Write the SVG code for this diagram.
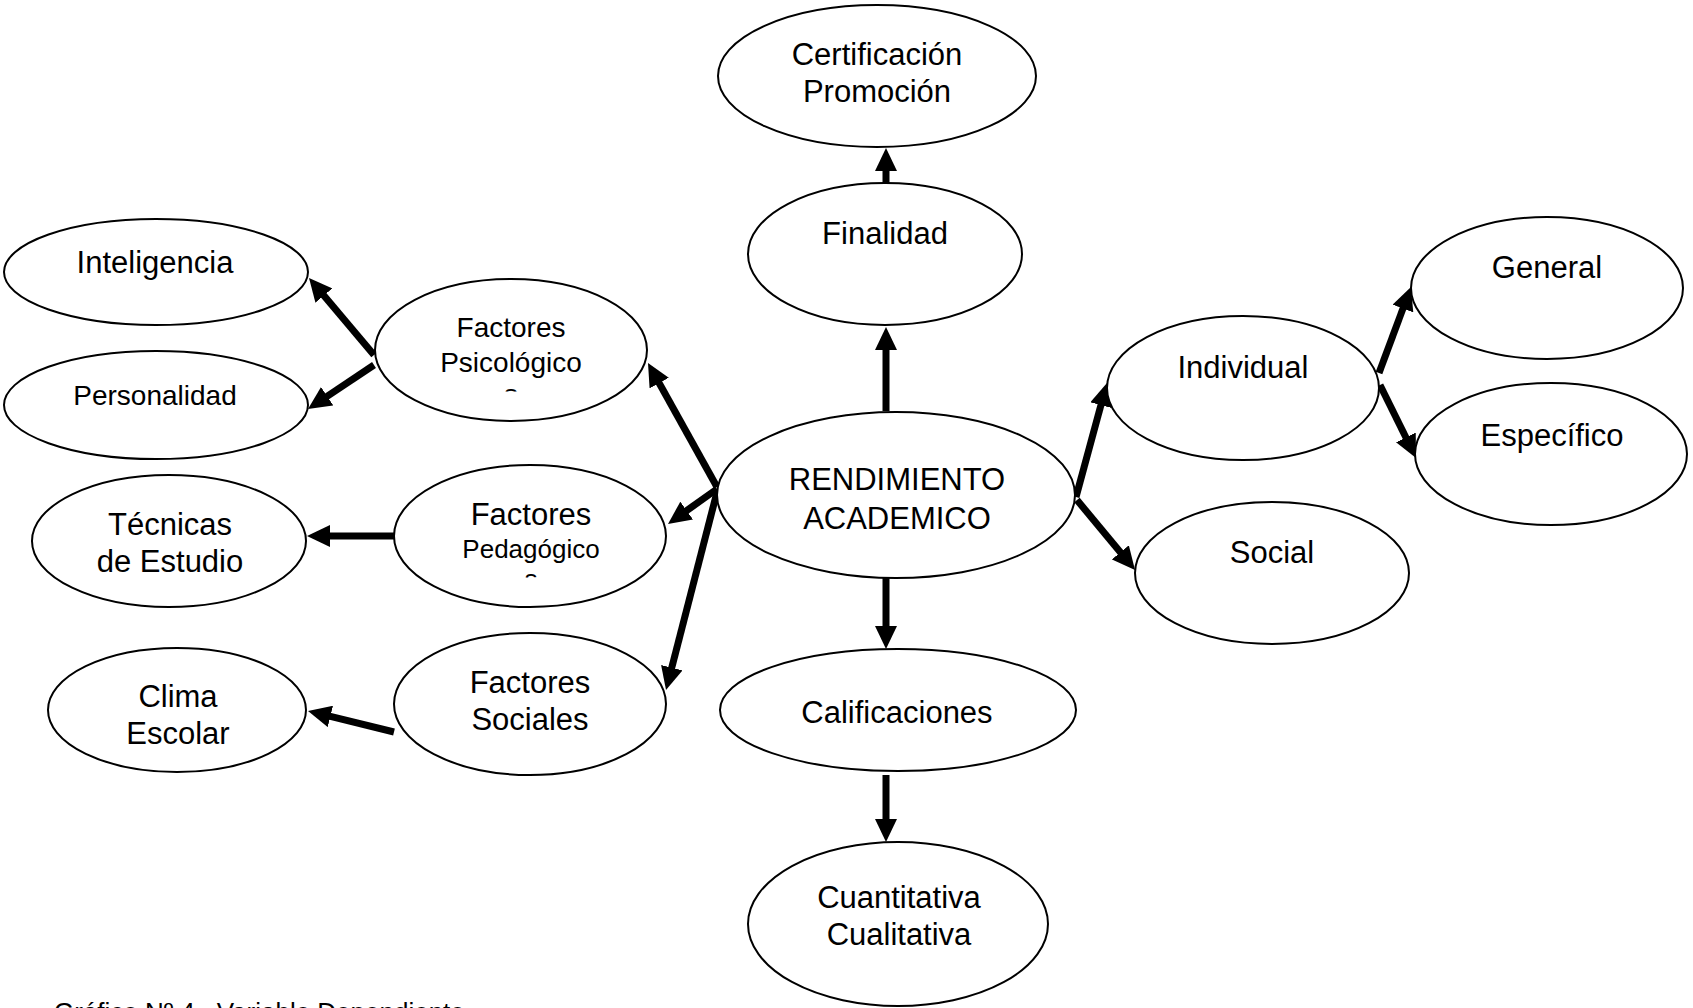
<svg xmlns="http://www.w3.org/2000/svg" width="1693" height="1008" viewBox="0 0 1693 1008">
<style>
.n ellipse{fill:#fff;stroke:#000;stroke-width:2}
text{font-family:"Liberation Sans",Arial,sans-serif;fill:#000;text-anchor:middle}
.t31{font-size:31px}
.t28{font-size:28px}
.t26{font-size:26px}
.c line{stroke:#000;stroke-width:7;marker-end:url(#ah)}
</style>
<defs>
<marker id="ah" markerUnits="userSpaceOnUse" markerWidth="23" markerHeight="22" viewBox="0 0 23 22" refX="1" refY="11" orient="auto">
<path d="M0,0 L23,11 L0,22 z" fill="#000"/>
</marker>
<clipPath id="cp1"><rect x="480" y="380" width="60" height="11.5"/></clipPath>
<clipPath id="cp2"><rect x="500" y="565" width="60" height="12.5"/></clipPath>
</defs>
<g class="c" id="connectors">
<line x1="886" y1="189" x2="886" y2="170"/>
<line x1="886" y1="411" x2="886" y2="349"/>
<line x1="886" y1="578" x2="886" y2="627"/>
<line x1="886" y1="775" x2="886" y2="820"/>
<line x1="717" y1="487" x2="658.7" y2="382.2"/>
<line x1="717" y1="489" x2="685.9" y2="511.2"/>
<line x1="717" y1="492" x2="671.5" y2="668.7"/>
<line x1="374" y1="355" x2="323.2" y2="294.8"/>
<line x1="374" y1="365" x2="326.3" y2="396.8"/>
<line x1="394" y1="536" x2="329" y2="536"/>
<line x1="394" y1="732" x2="329.4" y2="716.2"/>
<line x1="1076" y1="497" x2="1101.2" y2="404.2"/>
<line x1="1077" y1="500" x2="1121" y2="553.1"/>
<line x1="1379" y1="373" x2="1403.3" y2="307.6"/>
<line x1="1380" y1="385" x2="1406.3" y2="438.3"/>
</g>
<g class="n" id="certificacion">
<ellipse cx="877" cy="76" rx="159" ry="71"/>
<text class="t31" x="877" y="65">Certificación</text>
<text class="t31" x="877" y="102">Promoción</text>
</g>
<g class="n" id="finalidad">
<ellipse cx="885" cy="254" rx="137" ry="71"/>
<text class="t31" x="885" y="244">Finalidad</text>
</g>
<g class="n" id="rendimiento">
<ellipse cx="896" cy="495" rx="179" ry="83"/>
<text class="t31" x="897" y="490">RENDIMIENTO</text>
<text class="t31" x="897" y="529">ACADEMICO</text>
</g>
<g class="n" id="calificaciones">
<ellipse cx="898" cy="710" rx="178" ry="61"/>
<text class="t31" x="897" y="723">Calificaciones</text>
</g>
<g class="n" id="cuantitativa">
<ellipse cx="898" cy="924" rx="150" ry="82"/>
<text class="t31" x="899" y="908">Cuantitativa</text>
<text class="t31" x="899" y="945">Cualitativa</text>
</g>
<g class="n" id="inteligencia">
<ellipse cx="156" cy="272" rx="152" ry="53"/>
<text class="t31" x="155" y="273">Inteligencia</text>
</g>
<g class="n" id="personalidad">
<ellipse cx="156" cy="405" rx="152" ry="54"/>
<text class="t28" x="155" y="405">Personalidad</text>
</g>
<g class="n" id="factores-psicologicos">
<ellipse cx="511" cy="350" rx="136" ry="71"/>
<text class="t28" x="511" y="337">Factores</text>
<text class="t28" x="511" y="372">Psicológico</text>
<text class="t28" x="511" y="404" clip-path="url(#cp1)">s</text>
</g>
<g class="n" id="tecnicas">
<ellipse cx="169" cy="541" rx="137" ry="66"/>
<text class="t31" x="170" y="535">Técnicas</text>
<text class="t31" x="170" y="572">de Estudio</text>
</g>
<g class="n" id="factores-pedagogicos">
<ellipse cx="530" cy="536" rx="136" ry="71"/>
<text class="t31" x="531" y="525">Factores</text>
<text class="t26" x="531" y="558">Pedagógico</text>
<text class="t26" x="531" y="588" clip-path="url(#cp2)">s</text>
</g>
<g class="n" id="clima">
<ellipse cx="177" cy="710" rx="129" ry="62"/>
<text class="t31" x="178" y="707">Clima</text>
<text class="t31" x="178" y="744">Escolar</text>
</g>
<g class="n" id="factores-sociales">
<ellipse cx="530" cy="704" rx="136" ry="71"/>
<text class="t31" x="530" y="693">Factores</text>
<text class="t31" x="530" y="730">Sociales</text>
</g>
<g class="n" id="individual">
<ellipse cx="1243" cy="388" rx="136" ry="72"/>
<text class="t31" x="1243" y="378">Individual</text>
</g>
<g class="n" id="social">
<ellipse cx="1272" cy="573" rx="137" ry="71"/>
<text class="t31" x="1272" y="563">Social</text>
</g>
<g class="n" id="general">
<ellipse cx="1547" cy="288" rx="136" ry="71"/>
<text class="t31" x="1547" y="278">General</text>
</g>
<g class="n" id="especifico">
<ellipse cx="1551" cy="454" rx="136" ry="71"/>
<text class="t31" x="1552" y="446">Específico</text>
</g>
<text class="t26" x="54" y="1021" style="text-anchor:start">Gráfico Nº 4.&#160; Variable Dependiente</text>
</svg>
